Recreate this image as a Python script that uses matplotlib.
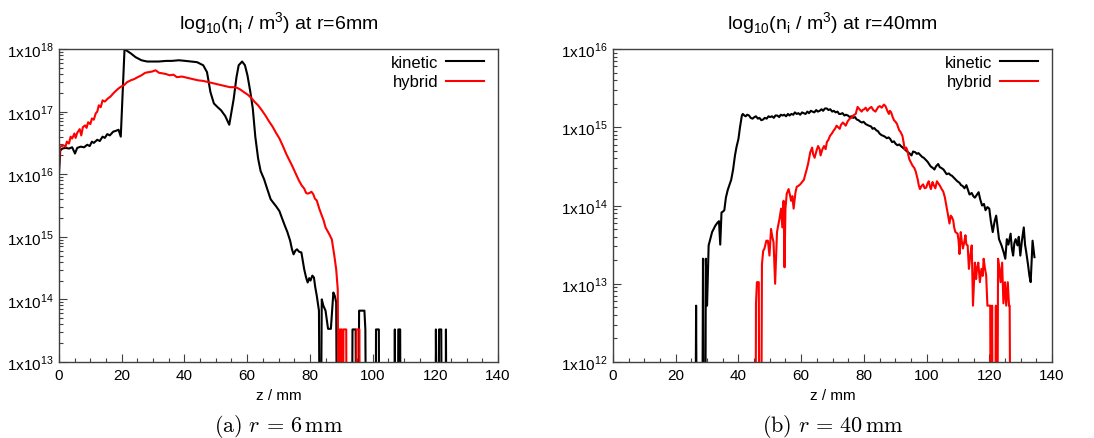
import numpy as np
import matplotlib
matplotlib.use("Agg")
import matplotlib.pyplot as plt
from matplotlib.ticker import FixedLocator, FuncFormatter, MultipleLocator, LogLocator, NullFormatter

plt.rcParams['font.family'] = ['Liberation Sans', 'DejaVu Sans']

# empty bins (no particles) -> far below the axis so the line drops off the plot
FLOOR = 10.0

# ---- r = 6 mm : log10 of ion density vs z (mm) ----
k6_z = [0, 0.4, 1.1, 2.1, 3.2, 4.2, 5.1, 5.8, 6.9, 8.0, 9.0, 9.8, 10.5, 11.1, 12.2, 13.0, 13.9,
        14.6, 15.4, 16.2, 17.3, 18.0, 19.0, 19.7, 20.9, 21.7, 22.9, 24.4, 26.3, 28.1, 29.7,
        31.8, 34.2, 36.0, 38.2, 40.3, 42.1, 44.0, 46.0, 47.2, 48.3, 49.4, 50.6, 51.7, 53.0,
        54.3, 55.7, 56.6, 57.3, 58.4, 59.3, 60.1, 61.0, 61.8, 62.6, 63.5, 64.3, 65.4, 66.5,
        67.5, 68.4, 69.2, 70.3, 71.1, 72.0, 72.8, 73.7, 74.3, 74.8, 75.4, 75.9, 76.6, 77.3,
        77.8, 78.2, 78.8, 79.3, 79.8, 80.2, 80.8, 81.3, 81.7, 82.2, 82.9, 83.3, 83.8, 84.3,
        85.0, 85.8, 86.7, 87.5, 88.0, 88.4, 88.8, 93.3, 93.6, 94.6, 94.9, 95.4, 95.7, 97.4,
        97.7, 98.1, 100.9, 101.1, 102.0, 102.2, 106.8, 107.1, 107.4, 108.0, 108.2, 108.8,
        109.0, 120.0, 120.2, 120.6, 120.9, 121.2, 121.9, 122.2, 123.2, 123.4, 123.7, 124.0]
k6_log = [16.0, 16.38, 16.41, 16.42, 16.41, 16.43, 16.33, 16.42, 16.44, 16.43, 16.47, 16.45,
          16.52, 16.50, 16.55, 16.53, 16.60, 16.58, 16.64, 16.62, 16.68, 16.69, 16.71, 16.60,
          18.0, 17.97, 17.93, 17.87, 17.82, 17.80, 17.80, 17.80, 17.81, 17.81, 17.82, 17.81,
          17.80, 17.79, 17.74, 17.63, 17.31, 17.13, 17.07, 17.02, 16.93, 16.79, 17.2, 17.55,
          17.74, 17.80, 17.74, 17.58, 17.32, 17.05, 16.6, 16.25, 16.05, 15.92, 15.75, 15.60,
          15.54, 15.49, 15.41, 15.30, 15.18, 15.08, 14.94, 14.80, 14.72, 14.78, 14.80, 14.76,
          14.75, 14.60, 14.48, 14.35, 14.27, 14.34, 14.30, 14.38, 14.35, 14.20, 14.06, 13.82,
          FLOOR, 14.0, 13.9, 13.82, 13.53, 13.53, 14.11, 14.05, 13.95, FLOOR, FLOOR, 13.52,
          13.52, FLOOR, FLOOR, 13.82, 13.82, 13.52, FLOOR, FLOOR, 13.52, 13.52, FLOOR, FLOOR,
          13.52, FLOOR, FLOOR, 13.52, 13.52, FLOOR, FLOOR, 13.52, FLOOR, FLOOR, 13.52, 13.52,
          FLOOR, FLOOR, 13.52, FLOOR, FLOOR]

h6_z = [0, 0.3, 1.5, 2.1, 2.5, 3.2, 3.7, 4.2, 4.9, 5.3, 5.8, 6.6, 7.1, 7.6, 8.3, 8.8, 9.3, 10.0,
        10.5, 11.1, 11.7, 12.2, 12.7, 13.3, 13.9, 14.6, 15.6, 16.4, 17.3, 18.1, 19.0, 19.8,
        20.7, 21.7, 22.9, 24.0, 25.1, 26.3, 27.5, 28.6, 29.7, 30.8, 31.9, 33.1, 34.1, 35.3,
        36.5, 37.6, 39.2, 40.9, 42.6, 44.3, 46.0, 47.7, 49.4, 51.1, 52.8, 54.5, 55.7, 56.8,
        57.9, 59.0, 60.2, 61.3, 62.3, 63.5, 64.7, 65.8, 66.9, 68.1, 69.1, 70.3, 71.4, 72.6,
        73.5, 74.3, 75.4, 76.5, 77.4, 78.2, 78.8, 79.3, 79.9, 80.5, 81.1, 81.6, 82.2, 83.0,
        83.8, 84.4, 85.0, 86.1, 87.0, 87.8, 88.4, 88.9, 89.3, 89.5, 89.8, 90.0, 90.2, 90.5,
        90.7, 91.6, 91.8, 94.7, 94.9, 95.8, 96.0]
h6_log = [16.14, 16.44, 16.46, 16.44, 16.52, 16.49, 16.60, 16.57, 16.65, 16.58, 16.66, 16.72,
          16.62, 16.75, 16.78, 16.74, 16.83, 16.80, 16.89, 16.87, 16.97, 17.00, 17.10, 17.07,
          17.18, 17.16, 17.21, 17.24, 17.29, 17.33, 17.37, 17.40, 17.42, 17.47, 17.50, 17.52,
          17.55, 17.58, 17.62, 17.63, 17.64, 17.66, 17.62, 17.61, 17.60, 17.58, 17.59, 17.55,
          17.56, 17.54, 17.52, 17.50, 17.49, 17.47, 17.45, 17.43, 17.41, 17.39, 17.39, 17.38,
          17.35, 17.31, 17.27, 17.22, 17.16, 17.10, 17.02, 16.94, 16.85, 16.76, 16.67, 16.57,
          16.45, 16.31, 16.22, 16.14, 16.02, 15.90, 15.82, 15.77, 15.70, 15.69, 15.70, 15.72,
          15.68, 15.61, 15.58, 15.45, 15.34, 15.26, 15.15, 15.05, 14.96, 14.70, 14.48, 14.16,
          FLOOR, 13.52, 13.52, FLOOR, 13.52, FLOOR, 13.52, 13.52, FLOOR, FLOOR, 13.52, 13.52,
          FLOOR]

# ---- r = 40 mm ----
k40_z = [26.2, 26.5, 26.8, 28.4, 28.7, 29.0, 29.4, 29.6, 30.0, 30.5, 31.1, 31.6, 32.1, 32.6,
         33.3, 33.8, 34.2, 34.6, 35.0, 35.5, 36.0, 36.6, 37.2, 37.7, 38.3, 38.9, 39.4, 40.0,
         40.5, 41.1, 41.4, 41.9, 42.3, 42.8, 43.4, 43.9, 44.5, 45.1, 45.6, 46.2, 46.7, 47.3,
         47.9, 48.4, 49.0, 49.6, 50.1, 50.7, 51.3, 51.8, 52.4, 53.0, 53.5, 54.1, 54.6, 55.2,
         55.8, 56.3, 56.9, 57.5, 58.0, 58.6, 59.1, 59.7, 60.3, 60.8, 61.4, 62.0, 62.5, 63.1,
         63.6, 64.2, 64.8, 65.3, 65.9, 66.5, 67.0, 67.6, 68.2, 68.7, 69.3, 69.9, 70.4, 71.0,
         71.6, 72.1, 72.6, 73.2, 73.8, 74.3, 74.9, 75.5, 76.0, 76.6, 77.2, 77.7, 78.3, 78.9,
         79.4, 79.9, 80.6, 81.1, 81.6, 82.3, 82.8, 83.3, 84.0, 84.5, 85.0, 85.6, 86.2, 86.7,
         87.3, 87.9, 88.4, 89.0, 89.6, 90.1, 90.7, 91.3, 91.8, 92.4, 93.0, 93.5, 94.1, 94.7,
         95.2, 95.7, 96.4, 96.9, 97.4, 98.1, 98.6, 99.1, 99.6, 100.3, 100.8, 101.3, 102.0,
         102.5, 103.0, 103.7, 104.2, 104.7, 105.4, 105.9, 106.4, 107.1, 107.6, 108.1, 108.8,
         109.3, 109.8, 110.5, 111.0, 111.5, 112.1, 112.7, 113.2, 113.7, 114.4, 114.9, 115.4,
         116.1, 116.6, 117.1, 117.7, 118.3, 118.8, 119.4, 120.0, 120.5, 121.1, 121.7, 122.2,
         122.7, 123.1, 123.6, 123.9, 124.6, 125.1, 125.6, 126.1, 126.8, 127.2, 127.6, 128.0,
         128.4, 129.0, 129.4, 129.9, 130.4, 131.0, 131.4, 131.8, 132.4, 132.8, 133.2, 133.8,
         134.4]
k40_log = [FLOOR, 12.72, FLOOR, FLOOR, 13.32, FLOOR, FLOOR, 13.32, 12.72, 13.49, 13.58, 13.66,
           13.70, 13.74, 13.78, 13.80, 13.50, 13.91, 13.92, 13.94, 14.10, 14.20, 14.27, 14.33,
           14.46, 14.64, 14.75, 14.85, 15.0, 15.15, 15.17, 15.15, 15.14, 15.16, 15.15, 15.12,
           15.11, 15.13, 15.14, 15.11, 15.12, 15.09, 15.10, 15.12, 15.11, 15.14, 15.13, 15.14,
           15.12, 15.15, 15.15, 15.13, 15.16, 15.15, 15.16, 15.14, 15.17, 15.15, 15.17, 15.16,
           15.19, 15.17, 15.18, 15.16, 15.19, 15.18, 15.17, 15.20, 15.18, 15.21, 15.20, 15.19,
           15.22, 15.20, 15.21, 15.23, 15.21, 15.24, 15.24, 15.22, 15.23, 15.20, 15.21, 15.19,
           15.20, 15.17, 15.17, 15.18, 15.15, 15.16, 15.15, 15.13, 15.14, 15.12, 15.13, 15.10,
           15.09, 15.07, 15.06, 15.07, 15.04, 15.03, 15.02, 15.01, 14.98, 14.99, 14.96, 14.95,
           14.92, 14.90, 14.89, 14.88, 14.86, 14.87, 14.85, 14.81, 14.82, 14.79, 14.77, 14.78,
           14.76, 14.74, 14.72, 14.70, 14.68, 14.66, 14.64, 14.69, 14.68, 14.66, 14.67, 14.64,
           14.62, 14.61, 14.59, 14.56, 14.53, 14.50, 14.48, 14.46, 14.50, 14.53, 14.49, 14.48,
           14.46, 14.43, 14.40, 14.41, 14.39, 14.38, 14.35, 14.33, 14.31, 14.29, 14.26, 14.25,
           14.22, 14.26, 14.20, 14.14, 14.16, 14.12, 14.10, 14.14, 14.17, 14.08, 14.00, 14.02,
           13.94, 13.98, 13.96, 13.80, 13.66, 13.80, 13.87, 13.70, 13.57, 13.52, 13.49, 13.40,
           13.32, 13.57, 13.50, 13.64, 13.45, 13.36, 13.52, 13.57, 13.49, 13.60, 13.36, 13.55,
           13.72, 13.50, 13.40, 13.23, 13.10, 13.02, 13.55, 13.34]

h40_z = [45.4, 45.6, 45.9, 46.5, 46.7, 47.2, 47.5, 47.9, 48.3, 48.9, 49.4, 49.9, 50.4, 50.8,
         51.2, 51.7, 52.3, 52.7, 53.1, 53.6, 54.0, 54.4, 54.7, 55.0, 55.4, 56.0, 56.4, 56.8,
         57.2, 57.6, 58.2, 58.6, 59.1, 59.7, 60.3, 60.9, 61.2, 61.7, 62.2, 62.9, 63.5, 63.8,
         64.3, 64.9, 65.4, 65.9, 66.2, 66.8, 67.3, 67.8, 68.2, 68.7, 69.2, 69.8, 70.4, 70.8,
         71.3, 71.8, 72.3, 72.7, 73.3, 73.8, 74.2, 74.9, 75.5, 76.0, 76.6, 77.0, 77.4, 78.0,
         78.6, 79.3, 79.6, 80.1, 80.6, 81.1, 81.7, 82.4, 83.0, 83.7, 84.3, 84.6, 85.1, 85.7,
         86.4, 86.9, 87.2, 87.6, 88.0, 88.3, 88.7, 89.2, 89.6, 90.1, 90.6, 91.0, 91.3, 91.7,
         92.3, 92.7, 93.0, 93.5, 93.9, 94.2, 94.5, 95.0, 95.5, 96.1, 96.5, 96.9, 97.2, 97.5,
         97.9, 98.4, 98.9, 99.4, 99.9, 100.3, 100.7, 101.1, 101.4, 101.9, 102.3, 102.8, 103.3,
         103.8, 104.3, 104.8, 105.3, 105.8, 106.3, 106.7, 107.3, 107.7, 108.1, 108.5, 108.8,
         109.2, 109.9, 110.2, 110.5, 110.9, 111.2, 111.6, 112.1, 112.4, 112.7, 113.1, 113.5,
         113.9, 114.4, 114.8, 115.4, 115.8, 116.1, 116.5, 117.0, 117.5, 117.9, 118.2, 118.6,
         119.0, 119.4, 120.3, 120.5, 120.9, 121.2, 121.8, 122.1, 122.3, 122.5, 122.8, 123.2,
         123.6, 124.1, 124.5, 125.0, 125.4, 125.9, 126.3, 126.5, 126.8]
h40_log = [FLOOR, 12.75, 13.02, 13.02, FLOOR, FLOOR, 13.25, 13.42, 13.45, 13.55, 13.55, 13.36,
           13.70, 13.60, 13.53, 13.00, 13.66, 13.75, 13.83, 13.96, 13.72, 14.06, 13.21, 13.96,
           14.15, 14.21, 14.14, 14.06, 14.12, 13.96, 14.17, 14.24, 14.25, 14.27, 14.30, 14.33,
           14.38, 14.45, 14.53, 14.68, 14.74, 14.66, 14.61, 14.70, 14.76, 14.72, 14.64, 14.72,
           14.76, 14.72, 14.81, 14.84, 14.89, 14.92, 14.96, 14.98, 15.02, 15.00, 14.98, 15.03,
           15.06, 15.04, 15.02, 15.08, 15.11, 15.12, 15.15, 15.16, 15.17, 15.26, 15.23, 15.20,
           15.22, 15.23, 15.25, 15.21, 15.24, 15.26, 15.22, 15.20, 15.24, 15.26, 15.27, 15.25,
           15.29, 15.27, 15.24, 15.20, 15.17, 15.21, 15.19, 15.13, 15.09, 15.07, 15.04, 14.99,
           14.96, 14.94, 14.89, 14.80, 14.72, 14.74, 14.70, 14.64, 14.59, 14.55, 14.51, 14.48,
           14.44, 14.38, 14.33, 14.26, 14.21, 14.25, 14.27, 14.22, 14.23, 14.28, 14.31, 14.24,
           14.21, 14.30, 14.26, 14.22, 14.31, 14.28, 14.25, 14.21, 14.18, 14.11, 14.0, 13.91,
           13.77, 13.87, 13.85, 13.81, 13.72, 13.66, 13.64, 13.55, 13.38, 13.66, 13.55, 13.45,
           13.55, 13.62, 13.50, 13.49, 13.19, 13.35, 13.49, 12.72, 13.27, 13.06, 13.20, 13.27,
           13.02, 13.19, 13.10, 13.32, 13.20, 13.11, 12.72, 12.72, FLOOR, 12.72, FLOOR, FLOOR,
           12.72, FLOOR, FLOOR, 13.32, 13.20, 13.02, 13.27, 12.75, 13.02, 12.72, 13.02, 12.72,
           12.72, FLOOR]

panels = [
    dict(title=r'log$_{\mathregular{10}}$(n$_{\mathregular{i}}$ / m$^{\mathregular{3}}$) at r=6mm',
         caption=r'$(\mathrm{a})\ \mathit{r}\, =\, \mathrm{6}\,\mathrm{mm}$',
         kin=(k6_z, k6_log), hyb=(h6_z, h6_log), ylim=(13, 18)),
    dict(title=r'log$_{\mathregular{10}}$(n$_{\mathregular{i}}$ / m$^{\mathregular{3}}$) at r=40mm',
         caption=r'$(\mathrm{b})\ \mathit{r}\, =\, \mathrm{40}\,\mathrm{mm}$',
         kin=(k40_z, k40_log), hyb=(h40_z, h40_log), ylim=(12, 16)),
]

fig = plt.figure(figsize=(10.94, 4.39), dpi=100)
lefts = [59 / 1094, 613 / 1094]
frame = '#404040'

for left, p in zip(lefts, panels):
    ax = fig.add_axes([left, 1 - 363 / 439, 439 / 1094, 313 / 439])
    ax.set_yscale('log', nonpositive='clip')
    kz, kl = p['kin']
    hz, hl = p['hyb']
    ax.plot(kz, 10.0 ** np.array(kl), color='black', lw=1.5, label='kinetic')
    ax.plot(hz, 10.0 ** np.array(hl), color='red', lw=1.5, label='hybrid')

    lo, hi = p['ylim']
    ax.set_xlim(0, 140)
    ax.set_ylim(10.0 ** lo, 10.0 ** hi)

    ax.xaxis.set_major_locator(MultipleLocator(20))
    ax.xaxis.set_minor_locator(MultipleLocator(5))
    ax.yaxis.set_major_locator(FixedLocator([10.0 ** e for e in range(lo, hi + 1)]))
    ax.yaxis.set_major_formatter(FuncFormatter(
        lambda v, pos: r'1x10$^{\mathregular{%d}}$' % round(np.log10(v))))
    ax.yaxis.set_minor_locator(LogLocator(base=10, subs=np.arange(2, 10), numticks=20))
    ax.yaxis.set_minor_formatter(NullFormatter())
    ax.tick_params(which='both', direction='in', top=False, right=False,
                   color=frame, labelsize=11, pad=4)
    ax.tick_params(which='major', length=6, width=0.8)
    ax.tick_params(which='minor', length=3, width=0.8)
    for s in ax.spines.values():
        s.set_color(frame)
        s.set_linewidth(1.0)

    ax.set_xlabel('z / mm', fontsize=11, labelpad=5)
    ax.set_title(p['title'], fontsize=14, pad=14)

    ax.legend(loc='upper right', bbox_to_anchor=(0.968, 0.98), frameon=False,
              markerfirst=False, fontsize=12, handlelength=2.3, handletextpad=0.45,
              labelspacing=0.25, borderpad=0, borderaxespad=0)

    fig.text(left + 0.5 * 439 / 1094, 0.017, p['caption'], ha='center', va='baseline',
             fontsize=16, math_fontfamily='cm')

fig.savefig('out.png', dpi=100)
